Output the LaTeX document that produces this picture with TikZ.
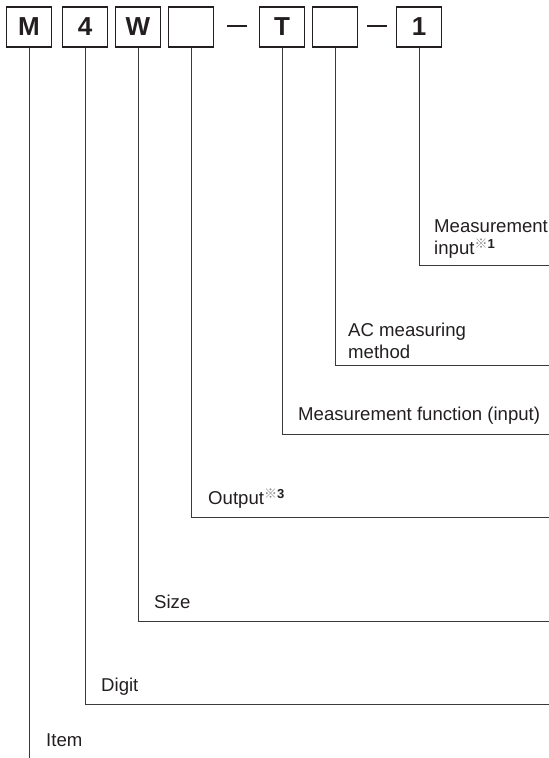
\documentclass[tikz,border=0pt]{standalone}
\usepackage{fontspec}
\setmainfont{Liberation Sans}
\newfontfamily\cjk{Noto Sans CJK JP}
\usetikzlibrary{positioning}
\definecolor{Ink}{HTML}{231F20}
\definecolor{Wire}{HTML}{3A3A3A}
\newcommand{\refmark}[1]{\textsuperscript{{\cjk\color{Ink!55}※}\textbf{#1}}}

\begin{document}
\begin{tikzpicture}[x=1pt, y=-1pt,
    code/.style={
        draw=Ink, line width=1.2pt, minimum width=45pt, minimum height=40pt,
        inner sep=0pt, text=Ink, font=\fontsize{26}{26}\selectfont\bfseries
    },
    hyph/.style={fill=Ink, minimum width=20pt, minimum height=2pt, inner sep=0pt},
    lead/.style={draw=Wire, line width=1pt},
    lbl/.style={
        anchor=south west, inner sep=0pt, text depth=0pt, align=left,
        text=Ink, font=\fontsize{18.6}{22}\selectfont
    }
]
\useasboundingbox (0,0) rectangle (549,758);

% === Model code boxes ===
\node[code] (cM) at (29,27) {M};
\node[code] (c4) at (85,27) {4};
\node[code] (cW) at (138,27) {W};
\node[code] (cOut) at (191,27) {};
\node[hyph] (h1) at (237,26) {};
\node[code] (cT) at (282,27) {T};
\node[code] (cAC) at (335,27) {};
\node[hyph] (h2) at (377,26) {};
\node[code] (c1) at (419,27) {1};

% === Right ends of the leaders ===
\coordinate (rInput) at (549,265);
\coordinate (rAC) at (549,365);
\coordinate (rFunc) at (549,434);
\coordinate (rOut) at (549,517);
\coordinate (rSize) at (549,621);
\coordinate (rDigit) at (549,704);
\coordinate (rItem) at (0,758);

% === Leaders ===
\draw[lead] (c1.south) |- (rInput);
\draw[lead] (cAC.south) |- (rAC);
\draw[lead] (cT.south) |- (rFunc);
\draw[lead] (cOut.south) |- (rOut);
\draw[lead] (cW.south) |- (rSize);
\draw[lead] (c4.south) |- (rDigit);
\draw[lead] (cM.south) -- (cM.south |- rItem);

% === Labels ===
\node[lbl] (tInput) at (434,255) {Measurement\\input\refmark{1}};
\node[lbl] (tAC) at (348,359) {AC measuring\\method};
\node[lbl] (tFunc) at (298,421) {Measurement function (input)};
\node[lbl] (tOut) at (208,505) {Output\refmark{3}};
\node[lbl] (tSize) at (154,609) {Size};
\node[lbl] (tDigit) at (101,692) {Digit};
\node[lbl] (tItem) at (46,747) {Item};

\end{tikzpicture}
\end{document}
